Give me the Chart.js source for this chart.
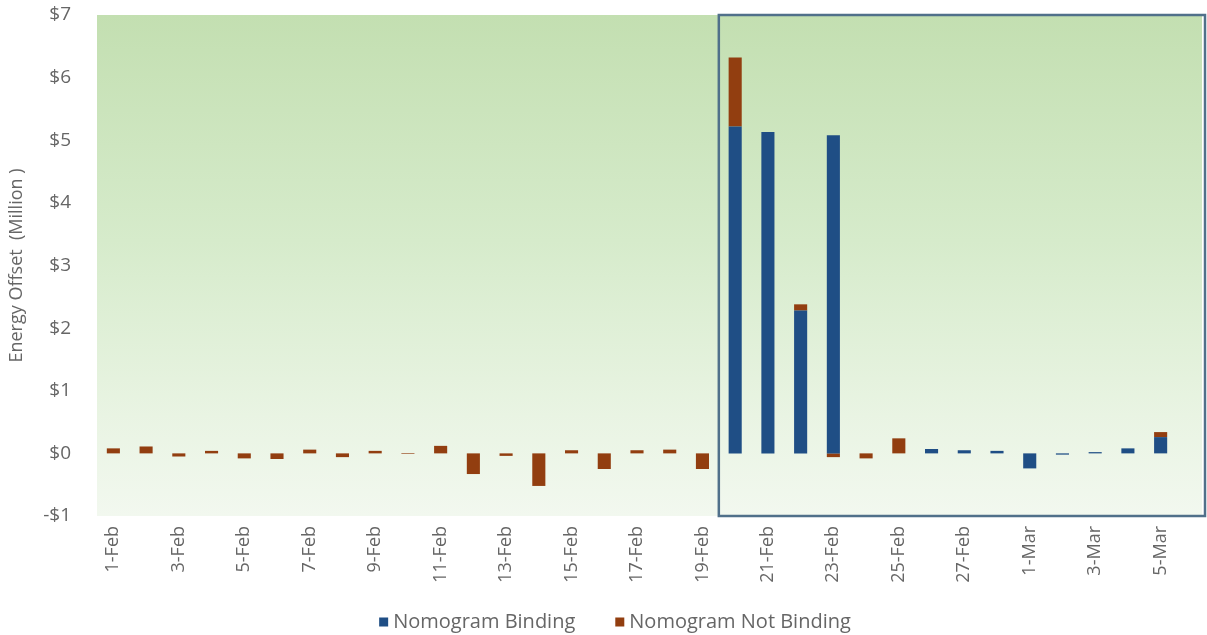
<!DOCTYPE html>
<html>
<head>
<meta charset="utf-8">
<script src="https://cdn.jsdelivr.net/npm/chart.js@4.4.1/dist/chart.umd.min.js"></script>
<style>
  html, body { margin: 0; padding: 0; background: #ffffff; }
  #wrap { width: 1207px; height: 635px; position: relative; }
</style>
</head>
<body>
<div id="wrap"><canvas id="c"></canvas></div>
<script>
// ---- data ($ million) ----
const categories = [
  '1-Feb','2-Feb','3-Feb','4-Feb','5-Feb','6-Feb','7-Feb','8-Feb','9-Feb','10-Feb',
  '11-Feb','12-Feb','13-Feb','14-Feb','15-Feb','16-Feb','17-Feb','18-Feb','19-Feb','20-Feb',
  '21-Feb','22-Feb','23-Feb','24-Feb','25-Feb','26-Feb','27-Feb','28-Feb',
  '1-Mar','2-Mar','3-Mar','4-Mar','5-Mar'
];
const nomogramBinding = [
  null, null, null, null, null, null, null, null, null, null,
  null, null, null, null, null, null, null, null, null, 5.22,
  5.13, 2.28, 5.08, null, null, 0.07, 0.05, 0.04,
  -0.24, -0.02, 0.02, 0.08, 0.26
];
const nomogramNotBinding = [
  0.08, 0.11, -0.05, 0.04, -0.08, -0.09, 0.06, -0.06, 0.04, -0.01,
  0.12, -0.33, -0.04, -0.52, 0.05, -0.25, 0.05, 0.06, -0.25, 1.10,
  null, 0.10, -0.06, -0.08, 0.24, null, null, null,
  null, null, null, null, 0.08
];
const seriesNames = ['Nomogram Binding', 'Nomogram Not Binding'];
const yTickValues = [-1, 0, 1, 2, 3, 4, 5, 6, 7];
const highlightStart = '20-Feb';

const BLUE = '#1F4E85';
const ORANGE = '#923E10';
const TEXT = '#666666';
const FONT = "'Open Sans', 'Noto Sans', sans-serif";

const backgroundPlugin = {
  id: 'plotBackground',
  beforeDatasetsDraw(chart) {
    const { ctx, chartArea } = chart;
    const right = chart.width - 5;
    const g = ctx.createLinearGradient(0, chartArea.top, 0, chartArea.bottom);
    g.addColorStop(0, '#c3dfb1');
    g.addColorStop(0.45, '#d6ebcb');
    g.addColorStop(0.8, '#e9f4e3');
    g.addColorStop(1, '#f2f8ef');
    ctx.save();
    ctx.fillStyle = g;
    ctx.fillRect(chartArea.left, chartArea.top, right - chartArea.left, chartArea.bottom - chartArea.top);
    ctx.restore();
  },
  afterDatasetsDraw(chart) {
    const { ctx, chartArea, scales } = chart;
    const xs = scales.x;
    const idx = categories.indexOf(highlightStart);
    const half = (xs.getPixelForValue(1) - xs.getPixelForValue(0)) / 2;
    const left = xs.getPixelForValue(idx) - half;
    const right = chart.width - 2;
    ctx.save();
    ctx.strokeStyle = '#50708a';
    ctx.lineWidth = 2.5;
    ctx.strokeRect(left, chartArea.top, right - left, chartArea.bottom - chartArea.top);
    ctx.restore();
  },
  afterDraw(chart) {
    const { ctx } = chart;
    const ds = chart.data.datasets;
    ctx.save();
    ctx.font = "20px " + FONT;
    ctx.textBaseline = 'middle';
    const box = 9, gap = 5, between = 40;
    const widths = ds.map(d => ctx.measureText(d.label).width);
    const total = widths.reduce((a, w) => a + box + gap + w, 0) + between * (ds.length - 1);
    let x = 615 - total / 2;
    const y = 622;
    ds.forEach((d, i) => {
      ctx.fillStyle = d.backgroundColor;
      ctx.fillRect(x, y - box / 2, box, box);
      x += box + gap;
      ctx.fillStyle = TEXT;
      ctx.fillText(d.label, x, y);
      x += widths[i] + between;
    });
    ctx.restore();
  }
};

new Chart(document.getElementById('c'), {
  type: 'bar',
  data: {
    labels: categories,
    datasets: [
      { label: seriesNames[0], data: nomogramBinding, backgroundColor: BLUE, borderWidth: 0 },
      { label: seriesNames[1], data: nomogramNotBinding, backgroundColor: ORANGE, borderWidth: 0 }
    ]
  },
  options: {
    responsive: true,
    maintainAspectRatio: false,
    animation: false,
    categoryPercentage: 0.8,
    barPercentage: 0.5,
    layout: { padding: { left: 0, right: 30, top: 15, bottom: 35 } },
    plugins: {
      legend: { display: false },
      tooltip: { enabled: false }
    },
    scales: {
      x: {
        stacked: true,
        grid: { display: false, drawTicks: false },
        border: { display: false },
        ticks: {
          color: TEXT,
          font: { family: FONT, size: 18 },
          minRotation: 90,
          maxRotation: 90,
          autoSkip: false,
          padding: 10,
          callback: function (v, i) { return i % 2 === 0 ? categories[i] : ''; }
        },
        afterFit(scale) { scale.height = 84; scale.paddingLeft = 0; scale.paddingRight = 0; }
      },
      y: {
        stacked: true,
        min: yTickValues[0],
        max: yTickValues[yTickValues.length - 1],
        grid: { display: false, drawTicks: false },
        border: { display: false },
        afterBuildTicks(scale) { scale.ticks = yTickValues.map(v => ({ value: v })); },
        ticks: {
          color: TEXT,
          font: { family: FONT, size: 19 },
          padding: 26,
          callback: function (v) { return (v < 0 ? '-$' : '$') + Math.abs(v); }
        },
        title: {
          display: true,
          text: 'Energy Offset  (Million )',
          color: TEXT,
          font: { family: FONT, size: 18 },
          padding: { top: 6, bottom: 4 }
        },
        afterFit(scale) { scale.width = 97; scale.paddingTop = 0; scale.paddingBottom = 0; }
      }
    }
  },
  plugins: [backgroundPlugin]
});
</script>
</body>
</html>
